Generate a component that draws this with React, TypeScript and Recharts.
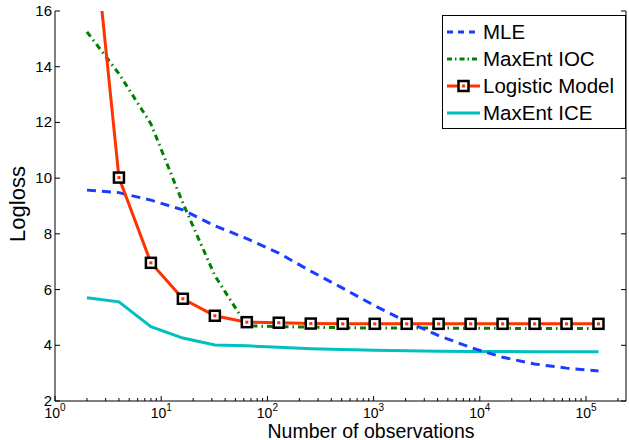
import React from "react";
import { LineChart, Line, XAxis, YAxis } from "recharts";

// number of observations (2^1 .. 2^17)
const observations = [2, 4, 8, 16, 32, 64, 128, 256, 512, 1024, 2048, 4096, 8192, 16384, 32768, 65536, 131072];

const mle = [9.57, 9.48, 9.21, 8.86, 8.29, 7.83, 7.31, 6.66, 6.05, 5.42, 4.85, 4.35, 3.92, 3.57, 3.33, 3.18, 3.08];
const maxentIoc = [15.25, 13.75, 11.95, 9.1, 6.5, 4.7, 4.67, 4.65, 4.63, 4.62, 4.62, 4.62, 4.61, 4.61, 4.6, 4.6, 4.6];
const logisticModel = [21.3, 10.02, 6.96, 5.67, 5.06, 4.83, 4.81, 4.78, 4.77, 4.77, 4.77, 4.77, 4.77, 4.77, 4.77, 4.77, 4.77];
const maxentIce = [5.71, 5.56, 4.67, 4.26, 4.01, 3.98, 3.93, 3.88, 3.85, 3.82, 3.8, 3.79, 3.78, 3.78, 3.77, 3.77, 3.77];

const yTicks = [2, 4, 6, 8, 10, 12, 14, 16];
const xDecades = [1, 10, 100, 1000, 10000, 100000];
const X_MAX = 238000;

const BLUE = "#1a3cff";
const GREEN = "#008000";
const RED = "#ff3300";
const CYAN = "#00bfbf";
const FONT = "'Liberation Sans', Arial, Helvetica, sans-serif";

// log axis ticks: majors at decades, minors at 2..9 x decade
const xTicks: number[] = [];
xDecades.forEach((d) => {
  for (let k = 1; k <= 9; k++) {
    if (d * k <= X_MAX) xTicks.push(d * k);
  }
});

const chartData = observations.map((n, i) => ({
  n,
  mle: mle[i],
  ioc: maxentIoc[i],
  logistic: logisticModel[i],
  ice: maxentIce[i],
}));

const isDecade = (v: number) => Math.abs(Math.log10(v) - Math.round(Math.log10(v))) < 1e-9;

const BottomTick = (props: any) => {
  const { x, y, payload } = props;
  const v = payload.value;
  const major = isDecade(v);
  return (
    <g>
      <line x1={x} x2={x} y1={y} y2={y - (major ? 5 : 3)} stroke="#000" strokeWidth={1} />
      {major && (
        <text x={x} y={y + 17} textAnchor="middle" fontSize={14} fontFamily={FONT} fill="#000">
          10
          <tspan dy={-7} fontSize={10}>
            {Math.round(Math.log10(v))}
          </tspan>
        </text>
      )}
    </g>
  );
};

const TopTick = (props: any) => {
  const { x, y, payload } = props;
  const major = isDecade(payload.value);
  return <line x1={x} x2={x} y1={y} y2={y + (major ? 5 : 3)} stroke="#000" strokeWidth={1} />;
};

const LeftTick = (props: any) => {
  const { x, y, payload } = props;
  return (
    <g>
      <line x1={x} x2={x + 5} y1={y} y2={y} stroke="#000" strokeWidth={1} />
      <text x={x - 3} y={y} dy={5} textAnchor="end" fontSize={15} fontFamily={FONT} fill="#000">
        {payload.value}
      </text>
    </g>
  );
};

const RightTick = (props: any) => {
  const { x, y } = props;
  return <line x1={x} x2={x - 5} y1={y} y2={y} stroke="#000" strokeWidth={1} />;
};

const SquareDot = (props: any) => {
  const { cx, cy, value, index } = props;
  if (cx == null || cy == null || value > 16) return <g key={`d${index}`} />;
  return (
    <g key={`d${index}`}>
      <rect x={cx - 5} y={cy - 5} width={10} height={10} fill="#fff" stroke="#000" strokeWidth={2.5} />
      <rect x={cx - 1.5} y={cy - 1.5} width={3} height={3} fill={RED} />
    </g>
  );
};

const legendItems = [
  { name: "MLE", color: BLUE, dash: "6 5" },
  { name: "MaxEnt IOC", color: GREEN, dash: "5 3 1.5 3" },
  { name: "Logistic Model", color: RED, dash: undefined, marker: true },
  { name: "MaxEnt ICE", color: CYAN, dash: undefined },
];

function LegendBox() {
  return (
    <svg width={184} height={114} style={{ position: "absolute", left: 442, top: 15 }}>
      <rect x={0.5} y={0.5} width={183} height={113} fill="#fff" stroke="#000" strokeWidth={1} />
      {legendItems.map((it, i) => {
        const cy = 17 + i * 27;
        return (
          <g key={it.name}>
            <line x1={5} x2={38} y1={cy} y2={cy} stroke={it.color} strokeWidth={3} strokeDasharray={it.dash} />
            {it.marker && (
              <g>
                <rect x={16.5} y={cy - 5} width={10} height={10} fill="#fff" stroke="#000" strokeWidth={2.5} />
                <rect x={20} y={cy - 1.5} width={3} height={3} fill={RED} />
              </g>
            )}
            <text x={41} y={cy + 7} fontSize={20.5} fontFamily={FONT} fill="#000">
              {it.name}
            </text>
          </g>
        );
      })}
    </svg>
  );
}

export default function App() {
  return (
    <div style={{ position: "absolute", left: 0, top: 0, width: 629, height: 440, background: "#fff" }}>
      <LineChart width={629} height={440} data={chartData} margin={{ top: 11, right: 0, bottom: 0, left: 0 }}>
        <XAxis
          dataKey="n"
          type="number"
          scale="log"
          domain={[1, X_MAX]}
          allowDataOverflow
          ticks={xTicks}
          interval={0}
          tickSize={0}
          tickMargin={0}
          tick={BottomTick}
          height={39}
          axisLine={{ stroke: "#000", strokeWidth: 1 }}
        />
        <XAxis
          xAxisId="top"
          orientation="top"
          dataKey="n"
          type="number"
          scale="log"
          domain={[1, X_MAX]}
          allowDataOverflow
          ticks={xTicks}
          interval={0}
          tickSize={0}
          tickMargin={0}
          tick={TopTick}
          height={0}
          axisLine={{ stroke: "#000", strokeWidth: 1 }}
        />
        <YAxis
          type="number"
          domain={[2, 16]}
          allowDataOverflow
          ticks={yTicks}
          interval={0}
          tickSize={0}
          tickMargin={0}
          tick={LeftTick}
          width={55}
          axisLine={{ stroke: "#000", strokeWidth: 1 }}
        />
        <YAxis
          yAxisId="right"
          orientation="right"
          type="number"
          domain={[2, 16]}
          allowDataOverflow
          ticks={yTicks}
          interval={0}
          tickSize={0}
          tickMargin={0}
          tick={RightTick}
          width={3}
          axisLine={{ stroke: "#000", strokeWidth: 1 }}
        />
        <Line dataKey="ice" stroke={CYAN} strokeWidth={3} dot={false} isAnimationActive={false} />
        <Line dataKey="ioc" stroke={GREEN} strokeWidth={3} strokeDasharray="6 4 1.5 4" dot={false} isAnimationActive={false} />
        <Line dataKey="mle" stroke={BLUE} strokeWidth={3} strokeDasharray="9 6" dot={false} isAnimationActive={false} />
        <Line dataKey="logistic" stroke={RED} strokeWidth={3} dot={SquareDot} isAnimationActive={false} />
        <text x={371} y={438} textAnchor="middle" fontSize={19.5} fontFamily={FONT} fill="#000">
          Number of observations
        </text>
        <text
          x={0}
          y={0}
          transform="translate(25,204) rotate(-90)"
          textAnchor="middle"
          fontSize={22}
          fontFamily={FONT}
          fill="#000"
        >
          Logloss
        </text>
      </LineChart>
      <LegendBox />
    </div>
  );
}
